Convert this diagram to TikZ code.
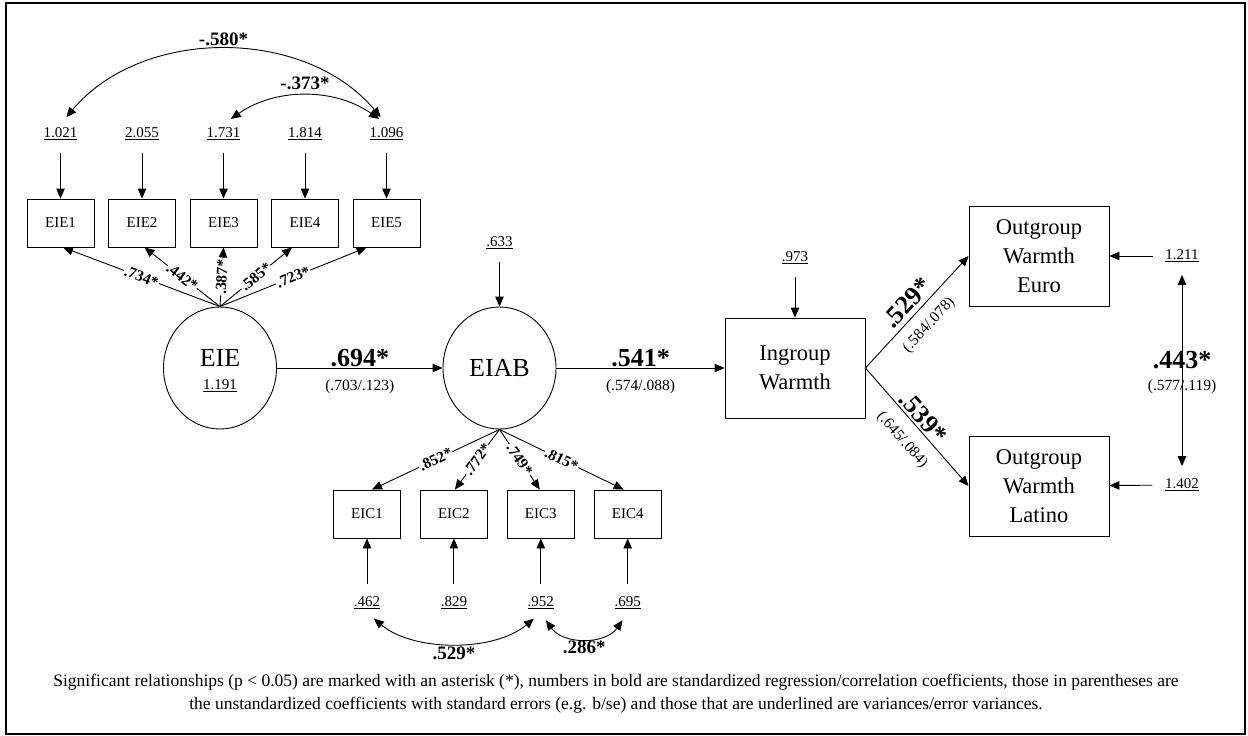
\documentclass[tikz,border=0pt]{standalone}
\usepackage{fontspec}
\setmainfont{Liberation Serif}
\usetikzlibrary{arrows.meta,shapes.geometric,chains,positioning}

\begin{document}
\begin{tikzpicture}[x=1pt,y=1pt,line width=0.9pt,
  >={Triangle[length=10pt,width=8.5pt]},
  ind/.style={draw,rectangle,minimum width=67pt,minimum height=48pt,font=\fontsize{15}{18}\selectfont},
  obs/.style={draw,rectangle,minimum width=140pt,minimum height=100pt,align=center,font=\fontsize{22.5}{29}\selectfont},
  latent/.style={draw,ellipse,minimum width=113pt,minimum height=122pt,inner sep=0pt},
  var/.style={font=\fontsize{15}{18}\selectfont},
  err/.style={->,shorten <=9pt},
  cov/.style={<->,shorten <=9pt,shorten >=9pt},
  load/.style={font=\bfseries\fontsize{15.5}{18}\selectfont,fill=white,inner sep=1pt,sloped},
  big/.style={font=\bfseries\fontsize{26}{30}\selectfont,inner sep=1pt},
  mid/.style={font=\bfseries\fontsize{19}{22}\selectfont},
  se/.style={font=\fontsize{15.5}{18}\selectfont}]

\useasboundingbox (0,0) rectangle (1248,-736);
\draw[line width=2pt] (6,-3) rectangle (1245,-734);

% indicators of EIE
\begin{scope}[shift={(60.5,-223)},start chain=going right,node distance=13.6pt]
\def\eieitems{1/1.021,2/2.055,3/1.731,4/1.814,5/1.096}
\foreach \i / \v in \eieitems {
  \node [ind,on chain] (eie\i) {EIE\i};
  \node [var] (ve\i) at ([yshift=89pt]eie\i.center) {\underline{\v}};
  \draw [err] (ve\i) -- (eie\i);
}
\end{scope}

% indicators of EIAB
\begin{scope}[shift={(367,-514)},start chain=going right,node distance=19pt]
\def\eicitems{1/.462,2/.829,3/.952,4/.695}
\foreach \i / \v in \eicitems {
  \node [ind,on chain] (eic\i) {EIC\i};
  \node [var] (vc\i) at ([yshift=-89pt]eic\i.center) {\underline{\v}};
  \draw [err] (vc\i) -- (eic\i);
}
\end{scope}

% latent variables
\node [latent] (eie) at (220,-368) {};
\node [font=\fontsize{26}{30}\selectfont] (eiename) at (220,-358) {EIE};
\node [var] (eievar) at (220,-386) {\underline{1.191}};
\node [latent,font=\fontsize{26}{30}\selectfont] (eiab) at (499.5,-368) {EIAB};
\node [var] (viab) at (499.5,-243) {\underline{.633}};
\draw [err] (viab) -- (eiab);

% observed outcomes
\node [obs] (ingroup) at (795,-368) {Ingroup\\Warmth};
\node [var] (vin) at (795,-258) {\underline{.973}};
\draw [err] (vin) -- (ingroup);
\node [obs] (euro) at (1039,-256) {Outgroup\\Warmth\\Euro};
\node [obs] (latino) at (1039,-486) {Outgroup\\Warmth\\Latino};
\node [var] (veuro) at (1182,-256) {\underline{1.211}};
\node [var] (vlat) at (1182,-485) {\underline{1.402}};
\draw [err] (veuro) -- (euro);
\draw [err] (vlat) -- (latino);

% loadings
\draw [->] (eie.north) -- node [load] {.734*} ([xshift=2.5pt]eie1.south);
\draw [->] (eie.north) -- node [load] {.442*} ([xshift=2.5pt]eie2.south);
\draw [->] (eie.north) -- node [load] {.387*} (eie3.south);
\draw [->] (eie.north) -- node [load] {.585*} ([xshift=-13pt]eie4.south);
\draw [->] (eie.north) -- node [load] {.723*} ([xshift=-20pt]eie5.south);
\draw [->] (eiab.south) -- node [load] {.852*} ([xshift=5pt]eic1.north);
\draw [->] (eiab.south) -- node [load] {.772*} ([xshift=1pt]eic2.north);
\draw [->] (eiab.south) -- node [load] {.749*} ([xshift=-1pt]eic3.north);
\draw [->] (eiab.south) -- node [load] {.815*} ([xshift=-4pt]eic4.north);

% paths
\draw [->] (eie) -- node [big,above] {.694*} node [se,below=8pt] {(.703/.123)} (eiab);
\draw [->] (eiab) -- node [big,above] {.541*} node [se,below=8pt] {(.574/.088)} (ingroup);
\draw [->] (ingroup.east) -- node [big,sloped,above=3.5pt,pos=0.5] {.529*}
  node [se,sloped,below=7pt,pos=0.49] {(.584/.078)} (euro.west);
\draw [->] (ingroup.east) -- node [big,sloped,above=1pt,pos=0.48] {.539*}
  node [se,sloped,below=9pt,pos=0.5] {(.645/.084)} (latino.west);

% covariances
\draw [cov] (ve1.north) to [out=50,in=130] node [mid,above=2pt] {-.580*} (ve5.north);
\draw [cov] (ve3.north) to [out=35,in=145] node [mid,above=3pt] {-.373*} (ve5.north);
\draw [cov] (vc1.south) to [out=-40,in=-140,looseness=0.9] node [mid,below=3pt,inner sep=1pt] {.529*} (vc3.south);
\draw [cov] (vc3.south) to [out=-55,in=-125,looseness=1.15] node [mid,below=3pt,inner sep=1pt] {.286*} (vc4.south);
\draw [cov] (veuro) -- node [big,pos=0.45] {.443*} node [se,pos=0.58] {(.577/.119)} (vlat);

\node [align=center,font=\fontsize{17.5}{23}\selectfont] (note) at (616,-694)
  {Significant relationships (p < 0.05) are marked with an asterisk (*), numbers in bold are standardized regression/correlation coefficients, those in parentheses are\\
   the unstandardized coefficients with standard errors (e.g. b/se) and those that are underlined are variances/error variances.};

\end{tikzpicture}
\end{document}
